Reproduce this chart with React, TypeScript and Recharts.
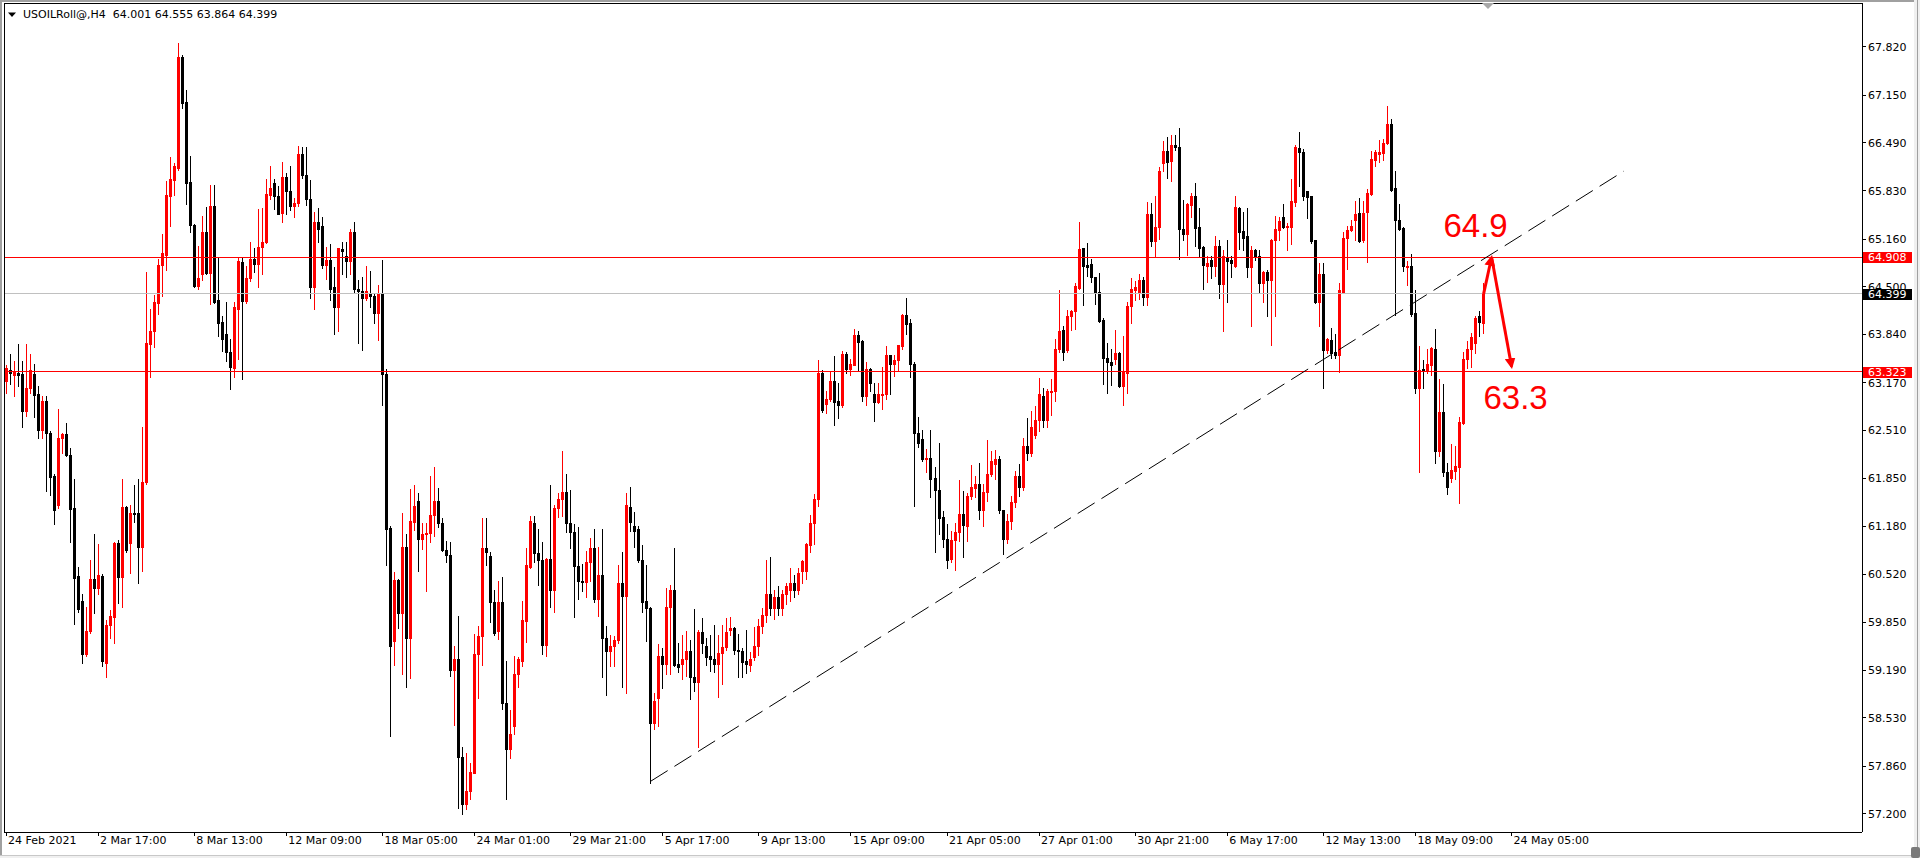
import React from 'react';
import { ComposedChart, Bar, Line, XAxis, YAxis, ReferenceLine, ReferenceDot } from 'recharts';

// ---------- data (H4 candles) ----------
const openPrices = [
  63.19,63.35,63.28,63.31,63.29,62.78,63.09,63.29,63.02,62.51,
  62.91,62.48,61.88,61.47,62.40,62.46,62.17,61.43,60.49,60.14,
  59.41,59.73,60.45,60.33,60.49,59.29,59.82,59.92,60.95,60.48,
  61.45,60.95,61.37,61.36,60.89,61.79,63.71,63.88,64.27,64.80,
  64.94,65.75,65.98,66.15,67.68,67.06,65.95,65.36,64.51,64.67,
  65.26,64.69,65.62,64.31,64.01,63.84,63.60,63.38,64.19,64.84,
  64.30,64.62,64.88,64.82,65.05,65.12,65.77,65.93,65.75,65.52,
  66.02,65.82,65.62,65.66,66.34,66.05,65.72,64.50,65.40,65.34,
  64.80,64.87,64.49,64.22,65.02,64.93,64.86,65.26,64.47,64.44,
  64.35,64.41,64.37,64.14,64.40,63.29,61.16,59.59,60.44,59.98,
  60.90,59.63,61.24,61.53,61.00,61.08,61.09,61.34,61.53,61.22,
  60.85,60.78,59.19,59.35,57.99,57.34,57.51,57.77,59.41,59.66,
  60.88,60.77,60.13,59.73,60.13,58.74,58.10,58.41,59.13,59.32,
  59.87,60.62,61.23,60.81,60.72,59.54,60.73,60.30,61.44,61.56,
  61.65,61.23,61.10,60.63,60.43,60.41,60.68,60.88,60.17,60.51,
  59.63,59.45,59.52,59.60,60.39,60.22,61.45,61.18,61.14,60.72,
  60.14,60.05,58.45,58.80,59.39,59.27,60.06,60.30,59.27,59.27,
  59.35,59.45,59.09,59.03,59.72,59.52,59.38,59.35,59.27,59.42,
  59.51,59.75,59.77,59.47,59.45,59.31,59.26,59.37,59.52,59.80,
  59.95,60.25,60.05,60.20,60.05,60.25,60.30,60.40,60.30,60.56,
  60.56,60.92,61.23,61.56,63.30,62.88,62.94,63.20,62.91,62.86,
  63.57,63.36,63.42,63.83,63.75,62.99,63.36,63.02,62.90,63.01,
  63.02,63.55,63.43,63.49,63.68,64.11,63.99,63.43,62.47,62.39,
  62.11,62.13,61.85,61.69,61.31,61.01,60.73,60.99,61.10,61.35,
  61.19,61.60,61.71,61.77,61.40,61.65,61.90,62.04,62.11,61.40,
  61.01,61.26,61.52,61.88,61.72,62.30,62.20,62.45,62.66,62.98,
  62.66,63.05,63.05,63.63,63.90,63.62,64.10,64.16,64.48,65.03,
  64.80,64.81,64.63,64.42,64.04,63.51,63.45,63.50,63.58,63.13,
  63.30,64.23,64.46,64.43,64.59,64.36,65.50,65.13,65.32,66.21,
  66.38,66.24,66.46,66.44,65.30,65.23,65.63,65.76,65.32,65.05,
  64.79,64.87,64.78,65.07,64.54,64.90,64.87,64.78,65.59,65.27,
  65.20,64.77,65.01,64.93,64.55,64.70,64.59,65.15,65.29,65.46,
  65.33,65.33,65.67,66.42,66.37,65.82,65.75,65.15,64.29,64.68,
  63.62,63.76,63.59,63.56,64.43,65.17,65.29,65.43,65.52,65.14,
  65.53,65.79,66.26,66.34,66.35,66.49,66.76,65.86,65.43,65.31,
  64.77,64.79,64.14,63.09,63.36,63.33,63.42,63.64,62.23,62.77,
  61.93,61.85,61.95,62.00,62.61,63.50,63.63,63.72,64.09,64.001,
];

const highPrices = [
  63.41,63.57,63.47,63.70,63.47,63.70,63.57,63.43,63.13,62.98,
  62.98,62.50,61.90,62.80,62.48,62.61,62.26,61.84,60.62,60.24,
  60.07,60.72,61.08,60.93,60.52,59.89,60.02,60.96,60.99,61.84,
  61.46,61.47,61.75,61.84,62.56,64.71,64.19,64.38,64.88,65.23,
  65.97,66.29,66.21,67.88,67.71,67.23,66.31,65.37,65.07,65.48,
  65.61,65.91,65.91,64.91,64.09,64.29,63.78,64.29,64.91,64.91,
  64.79,65.12,65.04,65.57,65.59,65.99,66.17,65.99,65.89,66.22,
  66.07,66.17,65.73,66.45,66.43,66.43,65.98,65.54,65.59,65.46,
  65.05,65.09,64.77,65.04,65.12,65.12,65.30,65.40,64.59,64.64,
  64.79,64.72,64.40,64.53,64.87,63.36,61.18,60.55,60.45,61.37,
  61.07,61.70,61.76,61.64,61.23,61.23,61.88,62.00,61.71,61.30,
  60.98,60.96,59.53,59.94,58.12,58.04,57.90,59.69,59.80,61.30,
  61.30,60.82,60.30,60.43,60.48,59.31,58.64,59.39,59.37,60.14,
  60.88,61.33,61.32,61.14,60.97,60.74,61.75,61.47,61.64,62.23,
  61.90,61.68,61.21,61.17,60.66,60.84,61.02,61.15,60.89,61.14,
  59.80,59.67,59.66,60.64,60.82,61.64,61.73,61.38,61.19,60.92,
  60.65,60.06,58.87,59.55,59.50,60.32,60.37,60.88,59.56,59.67,
  59.73,59.60,60.03,59.75,59.91,59.64,59.68,59.82,59.68,59.82,
  59.91,59.92,59.78,59.69,59.49,59.75,59.44,59.78,59.90,60.05,
  60.72,60.75,60.30,60.35,60.30,60.40,60.61,60.50,60.61,60.72,
  60.95,61.34,61.63,63.49,63.34,63.06,63.32,63.54,63.17,63.61,
  63.60,63.50,63.92,63.89,63.76,63.45,63.37,63.16,63.16,63.39,
  63.68,63.56,63.55,63.69,64.12,64.35,64.05,63.45,62.70,62.51,
  62.25,62.52,62.00,62.33,61.39,61.21,61.11,61.23,61.82,61.67,
  61.64,62.03,61.88,62.06,61.77,62.37,62.22,62.24,62.16,61.41,
  61.35,61.60,61.95,62.05,62.40,62.68,62.78,62.85,63.24,63.09,
  63.08,63.22,63.78,64.46,63.95,64.18,64.18,64.55,65.40,65.04,
  65.10,64.88,64.64,64.69,64.06,63.72,63.63,63.90,63.59,63.81,
  64.29,64.62,64.58,64.67,64.63,65.67,65.66,65.75,66.16,66.52,
  66.57,66.60,66.60,66.70,65.70,65.66,65.80,65.93,65.59,65.06,
  64.92,64.92,65.20,65.15,65.01,65.14,64.93,65.75,65.60,65.53,
  65.59,65.07,65.02,65.01,64.72,64.73,65.16,65.48,65.47,65.65,
  65.38,65.99,66.46,66.64,66.40,65.83,65.76,65.15,64.83,64.83,
  63.79,63.93,63.84,64.55,65.26,65.34,65.43,65.68,65.73,65.68,
  65.85,66.38,66.39,66.53,66.54,67.00,66.82,66.10,65.64,65.33,
  64.85,64.95,64.46,63.68,63.49,63.63,63.67,63.92,63.22,63.15,
  62.06,62.32,62.29,62.69,63.60,63.75,63.86,64.10,64.16,64.555,
];

const lowPrices = [
  63.03,63.15,62.98,63.12,62.56,62.71,63.03,62.69,62.41,62.40,
  61.67,61.62,61.21,61.44,62.19,62.15,60.96,59.83,60.00,59.29,
  59.39,59.71,59.98,60.24,59.24,59.10,59.64,59.56,60.12,60.07,
  60.83,60.54,61.24,60.39,60.56,61.77,63.25,63.66,64.12,64.37,
  64.73,65.34,65.77,66.12,66.98,65.64,65.26,64.50,64.47,64.59,
  64.67,64.26,64.28,63.82,63.61,63.47,63.08,63.25,63.50,63.22,
  64.27,64.58,64.71,64.49,64.68,65.10,65.72,65.57,65.50,65.39,
  65.51,65.56,65.46,65.62,66.01,65.63,64.35,64.19,65.12,64.76,
  64.61,64.32,63.84,63.88,64.68,64.64,64.68,64.43,63.72,63.62,
  64.32,64.22,64.00,63.76,62.86,60.65,58.28,59.26,59.77,59.14,
  58.96,59.08,61.13,60.56,60.87,60.29,60.96,61.05,61.17,60.84,
  60.68,59.11,58.43,57.28,57.19,57.27,57.40,57.76,58.80,59.26,
  60.65,59.85,59.68,59.62,58.65,57.41,57.97,58.31,58.95,59.24,
  59.58,60.60,60.68,60.37,59.41,59.38,60.07,59.99,61.31,61.33,
  61.10,60.88,59.92,60.18,60.28,60.20,60.42,60.13,59.94,59.09,
  58.84,59.24,59.24,59.57,58.95,58.87,61.12,60.89,60.69,59.99,
  59.59,57.63,58.37,58.42,58.94,59.13,59.13,59.25,59.16,59.07,
  59.11,58.79,58.90,58.12,59.43,59.26,59.17,59.16,58.81,59.00,
  59.47,59.68,59.41,59.10,59.10,59.15,59.17,59.33,59.40,59.70,
  59.85,59.95,59.90,59.95,59.95,60.10,60.15,60.20,60.25,60.40,
  60.45,60.82,60.93,61.46,62.76,62.75,62.92,62.58,62.68,62.83,
  63.30,63.27,63.41,63.33,62.92,62.86,63.06,62.64,62.89,62.81,
  62.95,63.01,63.26,63.34,63.64,63.85,63.25,61.46,62.28,62.09,
  61.93,61.59,60.82,61.07,60.89,60.61,60.69,60.57,60.98,60.76,
  60.98,61.56,61.58,61.28,61.19,61.53,61.88,61.84,61.37,60.80,
  60.95,61.15,61.45,61.60,61.68,62.10,62.15,62.40,62.50,62.55,
  62.55,62.72,62.91,63.60,63.48,63.59,63.90,63.92,64.47,64.24,
  64.65,64.56,64.26,64.01,63.15,63.03,63.14,63.43,63.11,62.86,
  63.03,64.00,64.31,64.33,64.24,64.25,65.07,64.92,65.16,66.10,
  66.01,65.97,66.39,64.89,65.14,64.94,65.46,65.07,64.92,64.47,
  64.57,64.62,64.65,64.35,63.88,64.29,64.64,64.77,65.02,65.01,
  64.64,63.95,64.87,64.42,64.29,64.10,63.69,64.10,65.14,65.31,
  65.01,65.09,65.62,65.90,65.70,65.45,65.11,64.27,63.96,63.10,
  63.58,63.51,63.51,63.32,64.42,64.75,65.27,65.15,65.12,65.12,
  64.84,65.77,66.17,66.23,66.25,66.47,65.83,64.11,65.29,64.72,
  64.53,64.10,63.03,61.94,63.09,63.30,63.27,62.06,62.15,61.88,
  61.63,61.80,61.83,61.51,62.60,63.37,63.39,63.58,63.81,63.864,
];

const closePrices = [
  63.38,63.31,63.32,63.28,62.78,63.10,63.35,63.00,62.51,62.91,
  62.47,61.87,61.40,62.40,62.46,62.17,61.42,60.47,60.04,59.41,
  59.73,60.45,60.33,60.51,59.31,59.82,59.94,60.95,60.48,61.45,
  60.85,61.37,61.35,60.89,61.80,63.72,63.88,64.29,64.80,64.96,
  65.77,65.99,66.17,67.68,67.05,65.94,65.35,64.51,64.62,65.26,
  64.69,65.62,64.29,64.00,63.78,63.59,63.39,64.22,64.86,64.30,
  64.62,64.89,64.82,65.05,65.12,65.78,65.87,65.75,65.51,66.02,
  65.82,65.62,65.66,66.34,66.05,65.71,64.50,65.40,65.30,64.80,
  64.87,64.47,64.22,65.03,64.99,64.86,65.26,64.47,64.44,64.35,
  64.44,64.37,64.14,64.40,63.29,61.15,59.53,60.44,59.98,60.90,
  59.63,61.26,61.46,61.01,61.08,61.09,61.34,61.53,61.22,60.85,
  60.78,59.19,59.35,57.99,57.34,57.51,57.78,59.41,59.66,60.88,
  60.82,60.13,59.71,60.13,58.74,58.10,58.31,59.13,59.35,59.88,
  60.64,61.25,60.81,60.72,59.54,60.73,60.30,61.44,61.56,61.65,
  61.23,61.10,60.63,60.42,60.41,60.68,60.88,60.17,60.51,59.63,
  59.45,59.52,59.61,60.39,60.21,61.47,61.24,61.12,60.71,60.13,
  60.05,58.45,58.76,59.38,59.27,60.06,60.30,59.26,59.23,59.35,
  59.45,59.09,59.03,59.72,59.56,59.37,59.34,59.27,59.42,59.51,
  59.72,59.77,59.47,59.45,59.30,59.27,59.35,59.52,59.80,59.95,
  60.25,60.05,60.20,60.05,60.25,60.35,60.40,60.30,60.54,60.70,
  60.93,61.23,61.56,63.31,62.79,62.95,63.20,62.90,62.86,63.57,
  63.36,63.43,63.83,63.74,62.99,63.36,63.16,62.90,63.01,63.02,
  63.55,63.43,63.48,63.69,64.11,63.98,63.43,62.47,62.33,62.11,
  62.13,61.84,61.68,61.30,61.01,60.72,60.99,61.10,61.35,61.20,
  61.60,61.72,61.77,61.40,61.66,61.90,62.09,62.11,61.40,61.01,
  61.26,61.52,61.88,61.72,62.30,62.20,62.55,62.66,63.02,62.66,
  63.06,63.06,63.64,63.89,63.60,64.10,64.16,64.51,65.02,64.78,
  64.77,64.63,64.42,64.03,63.51,63.45,63.42,63.58,63.13,63.33,
  64.23,64.47,64.49,64.59,64.36,65.50,65.13,65.33,66.10,66.38,
  66.23,66.46,66.43,65.30,65.23,65.65,65.76,65.31,65.04,64.80,
  64.83,64.78,65.06,64.54,64.92,64.86,64.83,65.60,65.26,65.18,
  64.77,65.01,64.92,64.55,64.70,64.59,65.15,65.30,65.41,65.32,
  65.34,65.69,66.43,66.36,65.75,65.74,65.13,64.29,64.68,63.62,
  63.77,63.58,63.56,64.46,65.17,65.29,65.34,65.51,65.13,65.52,
  65.80,66.27,66.37,66.36,66.49,66.76,65.84,65.43,65.30,64.78,
  64.79,64.12,63.09,63.35,63.34,63.43,63.65,62.22,62.77,61.93,
  61.72,61.96,62.01,62.63,63.50,63.64,63.80,64.06,64.01,64.399,
];

// slots on the time axis (bars + empty future space)
const slotCount = 464;

const xTickIndex = [0, 23, 47, 70, 94, 117, 141, 164, 188, 211, 235, 258, 282, 305, 329, 352, 376];
const xTickLabels = [
  '24 Feb 2021', '2 Mar 17:00', '8 Mar 13:00', '12 Mar 09:00', '18 Mar 05:00', '24 Mar 01:00',
  '29 Mar 21:00', '5 Apr 17:00', '9 Apr 13:00', '15 Apr 09:00', '21 Apr 05:00', '27 Apr 01:00',
  '30 Apr 21:00', '6 May 17:00', '12 May 13:00', '18 May 09:00', '24 May 05:00',
];

const yTicks = [57.2, 57.86, 58.53, 59.19, 59.85, 60.52, 61.18, 61.85, 62.51, 63.17, 63.84, 64.5, 65.16, 65.83, 66.49, 67.15, 67.82];
const yDomain = [56.947, 68.429];

const resistanceLevel = 64.908;
const supportLevel = 63.323;
const bidLevel = 64.399;

// price tags drawn on the right scale (value, tag colour)
const tagLevels = [bidLevel, resistanceLevel, supportLevel];
const tagColors = ['#000000', '#ff0000', '#ff0000'];

const trendIndex = [161, 404];
const trendValue = [57.65, 66.1];

const arrowUpIndex = [369, 371];
const arrowUpValue = [64.399, 64.908];
const arrowDownIndex = [371, 376];
const arrowDownValue = [64.908, 63.39];

const noteText = ['64.9', '63.3'];
const noteIndex = [367, 377];
const noteValue = [65.344, 62.971];

const titleText = 'USOILRoll@,H4  64.001 64.555 63.864 64.399';

// ---------- table for the library ----------
const chartData = Array.from({ length: slotCount }, (_, i) => {
  const row: any = { i };
  if (i < openPrices.length) {
    row.o = openPrices[i];
    row.h = highPrices[i];
    row.l = lowPrices[i];
    row.c = closePrices[i];
    row.range = [lowPrices[i], highPrices[i]];
  }
  const t = trendIndex.indexOf(i);
  if (t >= 0) row.trend = trendValue[t];
  const au = arrowUpIndex.indexOf(i);
  if (au >= 0) row.arrowUp = arrowUpValue[au];
  const ad = arrowDownIndex.indexOf(i);
  if (ad >= 0) row.arrowDown = arrowDownValue[ad];
  return row;
});

const allYTicks = [...yTicks, ...tagLevels];

const AXIS_FONT = 'DejaVu Sans';

function Candle(props: any) {
  const { x, y, width, height, payload } = props;
  if (!payload || payload.o == null || y == null || isNaN(y)) return null;
  const top = Math.min(y, y + height);
  const bottom = Math.max(y, y + height);
  const span = payload.h - payload.l;
  const k = span > 0 ? (bottom - top) / span : 0;
  const toY = (v: number) => top + (payload.h - v) * k;
  const up = payload.c > payload.o;
  const color = up ? '#ff0000' : '#000000';
  const cx = Math.floor(x + width / 2);
  const wt = Math.round(top);
  const wb = Math.round(bottom);
  const bt = Math.round(toY(Math.max(payload.o, payload.c)));
  let bb = Math.round(toY(Math.min(payload.o, payload.c)));
  if (bb - bt < 1) bb = bt + 1;
  return (
    <g>
      <rect x={cx} y={wt} width={1} height={Math.max(1, wb - wt + 1)} fill={color} />
      <rect x={cx - 1} y={bt} width={3} height={bb - bt + 1} fill={color} />
    </g>
  );
}

function XTick(props: any) {
  const { x, y, payload } = props;
  const k = xTickIndex.indexOf(payload.value);
  if (k < 0) return null;
  return (
    <text x={x + 2} y={y + 6} fontSize={11} fontFamily={AXIS_FONT} fill="#000" textAnchor="start">
      {xTickLabels[k]}
    </text>
  );
}

function YTick(props: any) {
  const { x, y, payload } = props;
  const v = payload.value;
  const tagK = tagLevels.indexOf(v);
  const label = Number(v).toFixed(3);
  if (tagK >= 0) {
    return (
      <g>
        <rect x={x - 5} y={Math.round(y) - 5} width={49} height={11} fill={tagColors[tagK]} />
        <text x={x} y={y} dy="0.36em" fontSize={11} fontFamily={AXIS_FONT} fill="#ffffff" textAnchor="start">
          {label}
        </text>
      </g>
    );
  }
  return (
    <text x={x} y={y} dy="0.36em" fontSize={11} fontFamily={AXIS_FONT} fill="#000000" textAnchor="start">
      {label}
    </text>
  );
}

export default function App() {
  return (
    <div style={{ position: 'absolute', left: 0, top: 0, width: 1920, height: 858, background: '#ffffff', overflow: 'hidden' }}>
      <ComposedChart
        width={1920}
        height={858}
        data={chartData}
        margin={{ top: 3, right: 0, bottom: 0, left: 4 }}
        barCategoryGap={0}
      >
        <defs>
          <marker id="arrowRed" viewBox="0 0 10 10" refX="8" refY="5" markerWidth="3.6" markerHeight="3.6" orient="auto" markerUnits="strokeWidth">
            <path d="M0,0 L10,5 L0,10 z" fill="#ff0000" />
          </marker>
        </defs>
        <XAxis
          dataKey="i"
          type="category"
          ticks={xTickIndex}
          interval={0}
          height={26}
          tickSize={4}
          tickMargin={2}
          tick={<XTick />}
          axisLine={{ stroke: '#000000', shapeRendering: 'crispEdges' }}
          tickLine={{ stroke: '#000000', shapeRendering: 'crispEdges' }}
        />
        <YAxis
          orientation="right"
          type="number"
          domain={yDomain}
          allowDataOverflow
          ticks={allYTicks}
          interval={0}
          width={58}
          tickSize={4}
          tickMargin={2}
          tick={<YTick />}
          axisLine={{ stroke: '#000000', shapeRendering: 'crispEdges' }}
          tickLine={{ stroke: '#000000', shapeRendering: 'crispEdges' }}
        />
        <Bar dataKey="range" shape={<Candle />} isAnimationActive={false} />
        <ReferenceLine y={bidLevel} stroke="#c0c0c0" shapeRendering="crispEdges" />
        <ReferenceLine y={resistanceLevel} stroke="#ff0000" shapeRendering="crispEdges" />
        <ReferenceLine y={supportLevel} stroke="#ff0000" shapeRendering="crispEdges" />
        <Line
          dataKey="trend"
          type="linear"
          stroke="#000000"
          strokeWidth={1}
          strokeDasharray="20 8"
          dot={false}
          activeDot={false}
          connectNulls
          isAnimationActive={false}
        />
        <Line
          dataKey="arrowUp"
          type="linear"
          stroke="#ff0000"
          strokeWidth={3}
          dot={false}
          activeDot={false}
          connectNulls
          isAnimationActive={false}
          markerEnd="url(#arrowRed)"
        />
        <Line
          dataKey="arrowDown"
          type="linear"
          stroke="#ff0000"
          strokeWidth={3}
          dot={false}
          activeDot={false}
          connectNulls
          isAnimationActive={false}
          markerEnd="url(#arrowRed)"
        />
        {noteText.map((t, k) => (
          <ReferenceDot
            key={t}
            x={noteIndex[k]}
            y={noteValue[k]}
            r={0}
            fill="none"
            stroke="none"
            label={{ value: t, position: 'center', fill: '#ff0000', fontSize: 33, fontFamily: 'Liberation Sans' }}
          />
        ))}
        <ReferenceLine x={0} position="start" stroke="#000000" shapeRendering="crispEdges" />
        <ReferenceLine y={yDomain[1]} stroke="#000000" shapeRendering="crispEdges" />
      </ComposedChart>
      <svg width={1920} height={858} style={{ position: 'absolute', left: 0, top: 0, pointerEvents: 'none' }}>
        <rect x={0} y={0} width={1920} height={2} fill="#a0a0a0" />
        <rect x={0} y={0} width={2} height={858} fill="#a0a0a0" />
        <rect x={1914} y={0} width={6} height={858} fill="#f0f0f0" />
        <rect x={1917} y={0} width={1} height={858} fill="#a0a0a0" />
        <rect x={0} y={855} width={1920} height={3} fill="#f0f0f0" />
        <rect x={0} y={855} width={1917} height={1} fill="#c8c8c8" />
        <rect x={1911} y={847} width={9} height={11} rx={2} fill="#7a7a7a" />
        <polygon points="1482,3 1494,3 1488,9" fill="#a8a8a8" />
        <polygon points="8,12.5 16,12.5 12,17" fill="#000000" />
        <text x={23} y={18.3} fontSize={11} fontFamily={AXIS_FONT} fill="#000000" style={{ whiteSpace: 'pre' }}>
          {titleText}
        </text>
      </svg>
    </div>
  );
}
